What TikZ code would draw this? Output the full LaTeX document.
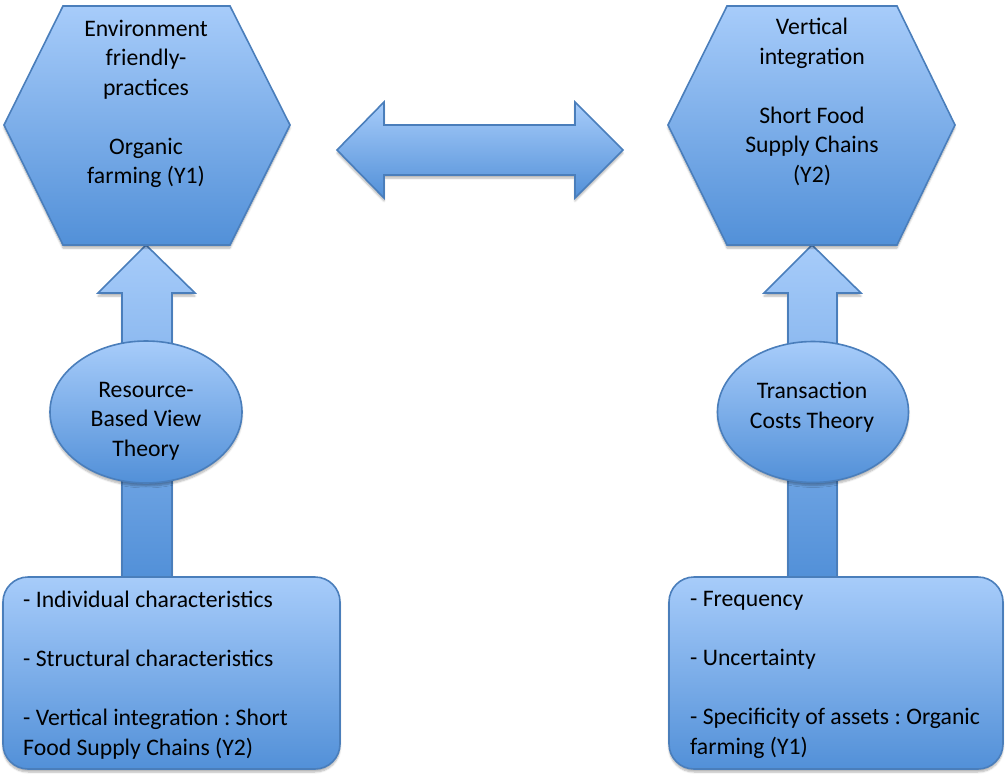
\documentclass[tikz,border=0pt]{standalone}
\usepackage{fontspec}
\setmainfont{Carlito}
\frenchspacing
\usetikzlibrary{shapes.geometric,shadows.blur}
\definecolor{gtop}{RGB}{167,204,250}
\definecolor{gbot}{RGB}{82,144,216}
\definecolor{edgeblue}{RGB}{74,126,187}
\begin{document}
\begin{tikzpicture}[x=1pt,y=-1pt,
  solid3d/.style={draw=edgeblue, line width=1.6pt, top color=gtop, bottom color=gbot, line join=miter,
    blur shadow={shadow xshift=0pt, shadow yshift=-3pt, shadow blur steps=6, shadow opacity=30}},
  txt/.style={font=\fontsize{23.7}{29.5}\selectfont\frenchspacing, inner sep=0pt, align=center, text=black},
  ltxt/.style={txt, align=left, anchor=west}]
\useasboundingbox (0,0) rectangle (1005,774);

% up arrows
\path[solid3d] (122,578) -- (122,293) -- (98,293) -- (146,245) -- (195,293) -- (172,293) -- (172,578) -- cycle;
\path[solid3d] (788,578) -- (788,293) -- (764,293) -- (812,245) -- (861,293) -- (837,293) -- (837,578) -- cycle;

% double arrow
\path[solid3d] (337,150) -- (384,102) -- (384,125) -- (575,125) -- (575,102) -- (623,150) -- (575,198) -- (575,175) -- (384,175) -- (384,198) -- cycle;

% hexagons
\path[solid3d] (4,125) -- (63,6) -- (230,6) -- (290,125) -- (230,245) -- (63,245) -- cycle;
\path[solid3d] (668,125) -- (727,6) -- (897,6) -- (955,125) -- (897,245) -- (727,245) -- cycle;

% ellipses
\node[solid3d, ellipse, minimum width=192pt, minimum height=142pt, inner sep=0pt] (e1) at (146,412) {};
\node[solid3d, ellipse, minimum width=191pt, minimum height=141pt, inner sep=0pt] (e2) at (813,412) {};

% boxes
\node[solid3d, rounded corners=25pt, minimum width=337pt, minimum height=192pt, inner sep=0pt] (b1) at (171.5,673) {};
\node[solid3d, rounded corners=25pt, minimum width=334pt, minimum height=192pt, inner sep=0pt] (b2) at (836,673) {};

% texts
\node[txt] (t1) at (146,104) {Environment\\friendly-\\practices\\[29.5pt]Organic\\farming (Y1)};
\node[txt] (t2) at (812,102) {Vertical\\integration\\[29.5pt]Short Food\\Supply Chains\\(Y2)};
\node[txt] (t3) at (146,421) {Resource-\\Based View\\Theory};
\node[txt] (t4) at (812,407) {Transaction\\Costs Theory};
\node[ltxt] (t5) at (23,675) {- Individual characteristics\\[29.5pt]- Structural characteristics\\[29.5pt]- Vertical integration : Short\\Food Supply Chains (Y2)};
\node[ltxt] (t6) at (690,675) {- Frequency\\[29.5pt]- Uncertainty\\[29.5pt]- Specificity of assets : Organic\\farming (Y1)};
\end{tikzpicture}
\end{document}
